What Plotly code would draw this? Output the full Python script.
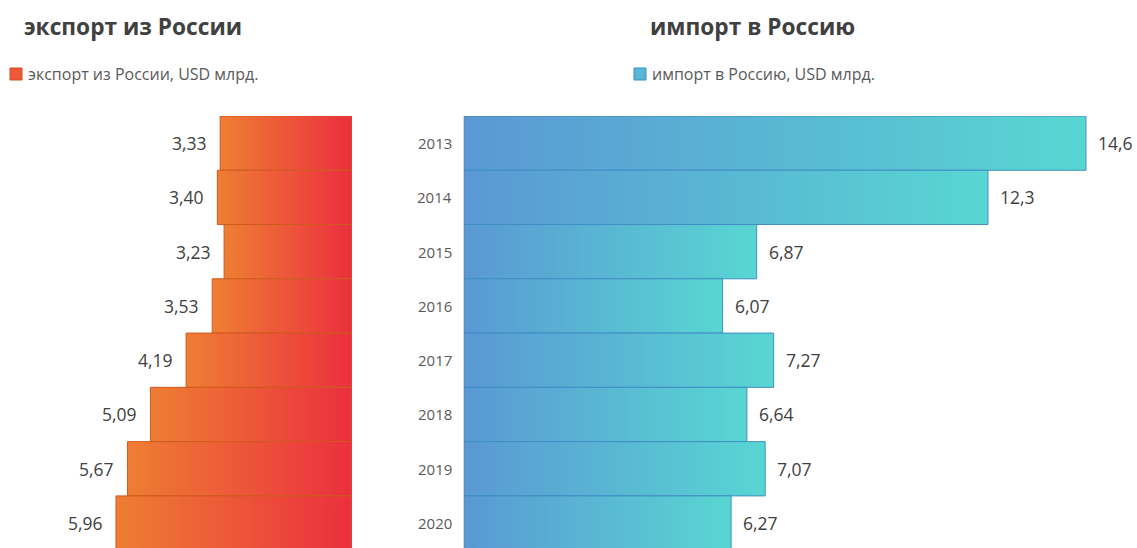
import plotly.graph_objects as go

years = ["2013", "2014", "2015", "2016", "2017", "2018", "2019", "2020"]
export_vals = [3.33, 3.40, 3.23, 3.53, 4.19, 5.09, 5.67, 5.96]
import_vals = [14.6, 12.3, 6.87, 6.07, 7.27, 6.64, 7.07, 6.27]
export_labels = ["3,33", "3,40", "3,23", "3,53", "4,19", "5,09", "5,67", "5,96"]
import_labels = ["14,6", "12,3", "6,87", "6,07", "7,27", "6,64", "7,07", "6,27"]

title_left = "экспорт из России"
title_right = "импорт в Россию"
legend_left = "экспорт из России, USD млрд."
legend_right = "импорт в Россию, USD млрд."

W, H = 1137, 548
FONT = "Open Sans"


def px(x):
    return x / W


def py(y):
    return 1 - y / H


fig = go.Figure()

for i, v in enumerate(export_vals):
    fig.add_trace(go.Scatter(
        x=[0, v, v, 0, 0], y=[i - 0.5, i - 0.5, i + 0.5, i + 0.5, i - 0.5],
        mode="lines", fill="toself",
        fillgradient=dict(type="horizontal",
                          colorscale=[[0, "#EE7E33"], [1, "#EB2F3E"]]),
        line=dict(color="#CF5A1E", width=1),
        hoverinfo="skip", showlegend=False, xaxis="x", yaxis="y"))

for i, v in enumerate(import_vals):
    fig.add_trace(go.Scatter(
        x=[0, v, v, 0, 0], y=[i - 0.5, i - 0.5, i + 0.5, i + 0.5, i - 0.5],
        mode="lines", fill="toself",
        fillgradient=dict(type="horizontal",
                          colorscale=[[0, "#5A98D4"], [1, "#58D6D2"]]),
        line=dict(color="#3F8EC4", width=1),
        hoverinfo="skip", showlegend=False, xaxis="x2", yaxis="y2"))

annotations = []
for i, (v, t) in enumerate(zip(export_vals, export_labels)):
    annotations.append(dict(x=v, y=i, xref="x", yref="y", text=t, showarrow=False,
                            xanchor="right", yanchor="middle", xshift=-11,
                            font=dict(family=FONT, size=17.5, color="#404040")))
for i, (v, t) in enumerate(zip(import_vals, import_labels)):
    annotations.append(dict(x=v, y=i, xref="x2", yref="y2", text=t, showarrow=False,
                            xanchor="left", yanchor="middle", xshift=10,
                            font=dict(family=FONT, size=17.5, color="#404040")))
for i, yr in enumerate(years):
    annotations.append(dict(x=0, y=i, xref="x2 domain", yref="y2", text=yr,
                            showarrow=False, xanchor="right", yanchor="middle",
                            xshift=-10,
                            font=dict(family=FONT, size=15, color="#595959")))

annotations.append(dict(x=px(133), y=py(27), xref="paper", yref="paper",
                        text="<b>" + title_left + "</b>", showarrow=False,
                        xanchor="center", yanchor="middle",
                        font=dict(family=FONT, size=22.7, color="#404040")))
annotations.append(dict(x=px(752), y=py(27), xref="paper", yref="paper",
                        text="<b>" + title_right + "</b>", showarrow=False,
                        xanchor="center", yanchor="middle",
                        font=dict(family=FONT, size=22.7, color="#404040")))
annotations.append(dict(x=px(26), y=py(74), xref="paper", yref="paper",
                        text=legend_left, showarrow=False,
                        xanchor="left", yanchor="middle",
                        font=dict(family=FONT, size=16, color="#595959")))
annotations.append(dict(x=px(650), y=py(74), xref="paper", yref="paper",
                        text=legend_right, showarrow=False,
                        xanchor="left", yanchor="middle",
                        font=dict(family=FONT, size=16, color="#595959")))

shapes = [
    dict(type="rect", xref="paper", yref="paper",
         x0=px(10), x1=px(22), y0=py(80), y1=py(68),
         fillcolor="#EC5A38", line=dict(color="#D94A2A", width=1)),
    dict(type="rect", xref="paper", yref="paper",
         x0=px(634), x1=px(646), y0=py(80), y1=py(68),
         fillcolor="#58B8D4", line=dict(color="#3F8EC4", width=1)),
]

y_top = py(116)
yrange = [7.46, -0.5]

fig.update_layout(
    width=W, height=H,
    margin=dict(l=0, r=0, t=0, b=0),
    paper_bgcolor="white", plot_bgcolor="white",
    showlegend=False,
    annotations=annotations, shapes=shapes,
    xaxis=dict(domain=[0, px(352)], range=[352 / 39.6, 0], visible=False),
    yaxis=dict(domain=[0, y_top], range=yrange, visible=False),
    xaxis2=dict(domain=[px(464), 1], range=[0, (1137 - 464) / 42.6], visible=False),
    yaxis2=dict(domain=[0, y_top], range=yrange, anchor="x2",
                showline=True, linecolor="#D9D9D9", linewidth=1,
                showticklabels=False, showgrid=False, zeroline=False, ticks=""),
)

fig.write_html(
    "out.html",
    config={"displayModeBar": False},
    post_script="document.body.style.margin='0';document.body.style.overflow='hidden';",
)
